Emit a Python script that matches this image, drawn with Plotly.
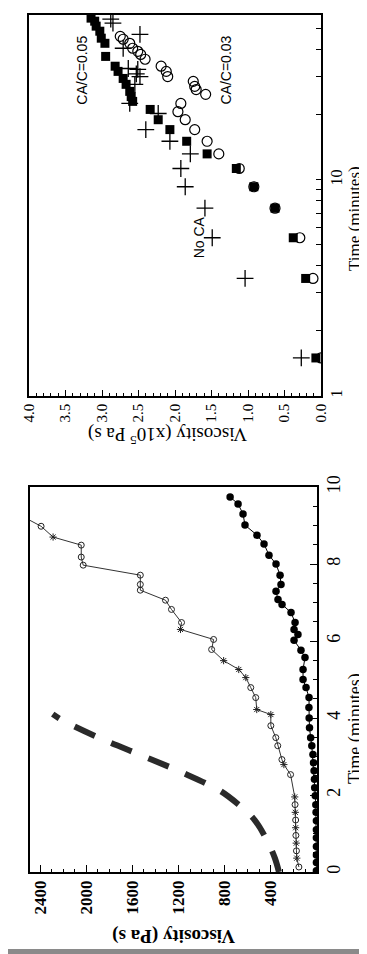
import numpy as np
import plotly.graph_objects as go

# ---------------- Upper chart data (log time, viscosity x1e5 Pa s) ----------------
sq_time = [1.5, 3.5, 5.4, 7.4, 9.3, 11.3, 13.2, 15.1, 17.1, 19.0, 21.2, 23.1, 24.3, 25.7,
           27.7, 29.5, 31.8, 33.6, 37.3, 42.9, 45.3, 48.8, 51.5, 54.3, 56.1]
sq_visc = [0.07, 0.21, 0.38, 0.63, 0.92, 1.16, 1.56, 1.84, 2.07, 2.23, 2.34, 2.58, 2.60, 2.62,
           2.67, 2.71, 2.78, 2.82, 2.95, 2.96, 3.01, 3.03, 3.08, 3.10, 3.15]

ci_time = [1.5, 3.5, 5.4, 7.4, 9.3, 11.3, 13.2, 15.1, 17.1, 19.0, 20.7, 22.6, 24.9, 26.2,
           27.1, 28.6, 30.1, 31.8, 33.6, 36.2, 38.1, 39.4, 40.7, 42.9, 44.8, 46.2]
ci_visc = [0.0, 0.11, 0.29, 0.63, 0.92, 1.12, 1.40, 1.56, 1.73, 1.86, 1.96, 1.92, 1.58, 1.71,
           1.73, 1.75, 2.10, 2.12, 2.19, 2.41, 2.47, 2.51, 2.58, 2.62, 2.71, 2.75]

pl_time = [1.5, 3.5, 5.4, 7.4, 9.3, 11.3, 13.2, 15.1, 17.1, 20.3, 22.6, 27.7, 30.1, 31.0,
           32.5, 32.8, 40.7, 47.2, 53.2, 55.5]
pl_visc = [0.27, 1.04, 1.49, 1.59, 1.86, 1.92, 1.79, 2.07, 2.40, 2.23, 2.62, 2.55, 2.48, 2.53,
           2.51, 2.64, 2.71, 2.48, 2.85, 2.88]

# ---------------- Lower chart data (linear time, viscosity Pa s) ----------------
dash_time = [0.0, 0.36, 0.8, 1.35, 1.75, 2.1, 2.58, 3.02, 3.46, 3.93, 4.1]
dash_visc = [330, 365, 430, 540, 680, 835, 1165, 1513, 1870, 2200, 2290]

mid_time = [0.13, 0.36, 0.55, 0.75, 0.95, 1.15, 1.35, 1.55, 1.75, 1.95, 2.53, 2.79, 2.92, 3.28,
            3.49, 3.80, 4.09, 4.22, 4.53, 4.79, 5.05, 5.26, 5.49, 5.78, 6.04, 6.30, 6.48, 6.82,
            7.06, 7.32, 7.47, 7.71, 7.97, 8.18, 8.49, 8.70, 8.98, 9.25]
mid_visc = [157, 175, 178, 180, 183, 185, 185, 188, 190, 193, 229, 287, 304, 340,
            357, 400, 400, 522, 531, 574, 617, 678, 809, 913, 896, 1183, 1174, 1261,
            1313, 1531, 1531, 1531, 2026, 2043, 2043, 2287, 2391, 2560]
mid_sym = ["o", "x", "o", "x", "o", "x", "o", "x", "o", "x", "o", "x", "o", "o",
           "o", "o", "x", "x", "o", "o", "x", "x", "x", "o", "o", "x", "o", "o",
           "o", "o", "o", "o", "o", "o", "o", "x", "o", "o"]

low_time = [0.03, 0.25, 0.44, 0.66, 0.89, 1.1, 1.33, 1.55, 1.75, 1.98, 2.19, 2.41, 2.63, 2.84,
            3.05, 3.28, 3.49, 3.75, 4.0, 4.27, 4.53, 4.79, 5.0, 5.26, 5.57, 5.76, 6.02, 6.17,
            6.30, 6.48, 6.74, 6.95, 7.08, 7.29, 7.47, 7.71, 8.0, 8.23, 8.52, 8.75, 9.01, 9.30,
            9.56, 9.74]
low_visc = [5, 5, 5, 5, 5, 5, 5, 8, 10, 15, 20, 22, 25, 30,
            35, 45, 55, 65, 68, 70, 69, 95, 121, 121, 104, 139, 199, 165,
            199, 190, 225, 303, 338, 355, 312, 320, 355, 416, 459, 520, 624, 641,
            684, 753]

up_visc_ticks = [0.0, 0.5, 1.0, 1.5, 2.0, 2.5, 3.0, 3.5, 4.0]
up_time_ticks = [1, 10]
up_time_minor = [2, 3, 4, 5, 6, 7, 8, 9, 20, 30, 40, 50]
low_visc_ticks = [400, 800, 1200, 1600, 2000, 2400]
low_time_ticks = [0, 2, 4, 6, 8, 10]

SERIF = "Liberation Serif, Times New Roman, serif"
SANS = "Liberation Sans, Arial, sans-serif"
W, H = 367, 954

fig = go.Figure()

# upper traces
fig.add_trace(go.Scatter(x=ci_visc, y=ci_time, mode="markers", xaxis="x", yaxis="y",
                         marker=dict(symbol="circle-open", size=10, color="black",
                                     line=dict(width=1.2, color="black"))))
fig.add_trace(go.Scatter(x=sq_visc, y=sq_time, mode="markers", xaxis="x", yaxis="y",
                         marker=dict(symbol="square", size=9, color="black")))
fig.add_trace(go.Scatter(x=pl_visc, y=pl_time, mode="markers", xaxis="x", yaxis="y",
                         marker=dict(symbol="cross-thin-open", size=12, color="black",
                                     line=dict(width=1.3, color="black"))))

# lower traces
fig.add_trace(go.Scatter(x=dash_visc, y=dash_time, mode="lines", xaxis="x2", yaxis="y2",
                         line=dict(color="#2a2a2a", width=6, dash="22px,18px", shape="spline")))
sym_map = {"o": "circle-open", "x": "asterisk-open"}
fig.add_trace(go.Scatter(x=mid_visc, y=mid_time, mode="lines+markers", xaxis="x2", yaxis="y2",
                         line=dict(color="#333", width=1),
                         marker=dict(symbol=[sym_map[s] for s in mid_sym], size=6, color="#222",
                                     line=dict(width=1, color="#222"))))
fig.add_trace(go.Scatter(x=low_visc, y=low_time, mode="lines+markers", xaxis="x2", yaxis="y2",
                         line=dict(color="black", width=1),
                         marker=dict(symbol="circle", size=7.5, color="black")))

axis_common = dict(showline=True, linecolor="black", linewidth=1.5, mirror=True,
                   showgrid=False, zeroline=False, ticks="inside", tickcolor="black",
                   automargin=False)

fig.update_layout(
    width=W, height=H, margin=dict(l=0, r=0, t=0, b=0),
    paper_bgcolor="white", plot_bgcolor="white", showlegend=False, template="none",
    xaxis=dict(**axis_common, domain=[21 / W, 313 / W], anchor="y", range=[4, 0],
               tickvals=up_visc_ticks, ticktext=[f"{v:.1f}" for v in up_visc_ticks],
               tickangle=-90, ticklen=6, tickwidth=1,
               tickfont=dict(family=SERIF, size=15, color="black"),
               minor=dict(ticks="inside", dtick=0.1, ticklen=3, tickcolor="black", tickwidth=1)),
    yaxis=dict(**axis_common, domain=[1 - 388 / H, 1 - 7 / H], anchor="x", type="log",
               range=[0, np.log10(58)], side="right",
               tickvals=up_time_ticks, ticktext=[str(v) for v in up_time_ticks], tickangle=-90,
               ticklen=5, tickwidth=1,
               tickfont=dict(family=SERIF, size=16, color="black"),
               minor=dict(ticks="inside", tickmode="array", tickvals=up_time_minor,
                          ticklen=5, tickcolor="black", tickwidth=1)),
    xaxis2=dict(**axis_common, domain=[22 / W, 309 / W], anchor="y2", range=[2487, 0],
                tickvals=low_visc_ticks, ticktext=[f"<b>{v}</b>" for v in low_visc_ticks],
                tickangle=-90, ticklen=7, tickwidth=1,
                tickfont=dict(family=SERIF, size=17, color="black"),
                minor=dict(ticks="inside", dtick=100, ticklen=3, tickcolor="black", tickwidth=1)),
    yaxis2=dict(**axis_common, domain=[1 - 864 / H, 1 - 479 / H], anchor="x2",
                range=[0, 10], side="right",
                tickvals=low_time_ticks, ticktext=[str(v) for v in low_time_ticks],
                tickangle=-90, ticklen=7, tickwidth=1,
                tickfont=dict(family=SERIF, size=18, color="black"),
                minor=dict(ticks="inside", dtick=0.5, ticklen=4, tickcolor="black", tickwidth=1)),
)

c = dict(xanchor="center", yanchor="middle", showarrow=False)
ann = [
    dict(text="CA/C=0.05", x=3.27, y=1.507, xref="x", yref="y", textangle=-90,
         font=dict(family=SANS, size=14, color="black"), **c),
    dict(text="CA/C=0.03", x=1.30, y=1.507, xref="x", yref="y", textangle=-90,
         font=dict(family=SANS, size=14, color="black"), **c),
    dict(text="No CA", x=1.67, y=0.735, xref="x", yref="y", textangle=-90,
         font=dict(family=SANS, size=14, color="black"), **c),
    # axis titles (auto anchors: right/top for upper, right/bottom for lower)
    dict(text="Time (minutes)", x=358 / W, y=1 - 156 / H, xref="paper", yref="paper",
         textangle=-90, font=dict(family=SERIF, size=17, color="black"), showarrow=False),
    dict(text="Time (minutes)", x=360 / W, y=1 - 778 / H, xref="paper", yref="paper",
         textangle=-90, font=dict(family=SERIF, size=18, color="black"), showarrow=False),
    dict(text="Viscosity (x10<sup>5</sup> Pa s)", x=160 / W, y=1 - 428 / H,
         xref="paper", yref="paper", textangle=180,
         font=dict(family=SERIF, size=19, color="black"), **c),
    dict(text="<b>Viscosity (Pa s)</b>", x=166 / W, y=1 - 928 / H,
         xref="paper", yref="paper", textangle=180,
         font=dict(family=SERIF, size=19, color="black"), **c),
]
fig.update_layout(annotations=ann)

fig.update_layout(shapes=[
    dict(type="rect", xref="paper", yref="paper", x0=0, x1=1, y0=0, y1=13 / H,
         fillcolor="#8a8a8a", line=dict(width=0), layer="below"),
])

fig.write_html("out.html")
